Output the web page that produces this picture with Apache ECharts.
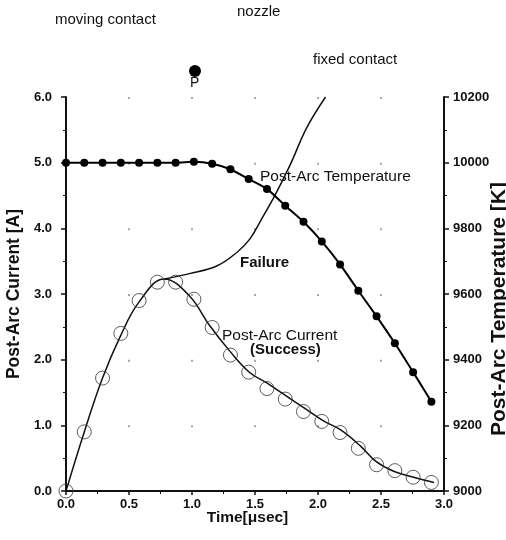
<html>
<head>
<meta charset="utf-8">
<script src="https://cdn.jsdelivr.net/npm/echarts@6/dist/echarts.min.js"></script>
</head>
<body style="margin:0;background:#fff">
<div id="main" style="width:506px;height:540px"></div>
<script>
// time steps of the sampled points [usec]
var times = [0, 0.145, 0.29, 0.435, 0.58, 0.725, 0.87, 1.015, 1.16, 1.305, 1.45,
    1.595, 1.74, 1.885, 2.03, 2.175, 2.32, 2.465, 2.61, 2.755, 2.9];
// post-arc temperature [K] (filled dots)
var temperature = [10000, 10000, 10000, 10000, 10000, 10000, 10000, 10003, 9997, 9980, 9950,
    9920, 9869, 9820, 9760, 9690, 9610, 9532, 9450, 9362, 9272];
// post-arc current [A] (open circles)
var current = [0, 0.90, 1.72, 2.40, 2.90, 3.18, 3.18, 2.92, 2.49, 2.07, 1.81,
    1.56, 1.40, 1.21, 1.06, 0.89, 0.65, 0.40, 0.31, 0.21, 0.13];
// fitted current curve (success)
var successCurve = [[0, 0], [0.15, 0.93], [0.29, 1.72], [0.43, 2.35], [0.58, 2.88], [0.78, 3.23],
    [0.98, 2.97], [1.14, 2.52], [1.30, 2.13], [1.46, 1.80], [1.59, 1.65], [1.73, 1.47],
    [1.91, 1.24], [2.05, 1.06], [2.18, 0.93], [2.34, 0.68], [2.46, 0.45], [2.60, 0.30],
    [2.76, 0.21], [2.92, 0.13]];
// failure branch
var failureCurve = [[0.78, 3.23], [0.98, 3.31], [1.20, 3.43], [1.36, 3.64], [1.46, 3.84],
    [1.54, 4.10], [1.66, 4.51], [1.78, 4.97], [1.91, 5.53], [2.06, 6.0]];
var xTicks = [0, 0.5, 1.0, 1.5, 2.0, 2.5, 3.0];

var font = "'Liberation Sans', Arial, sans-serif";

function pairs(xs, ys) {
    return xs.map(function (x, i) { return [x, ys[i]]; });
}

var chart = echarts.init(document.getElementById('main'));

var labelStyle = {color: '#111', fontWeight: 'bold', fontSize: 13, fontFamily: font};

chart.setOption({
    animation: false,
    grid: {left: 66, right: 62, top: 97, bottom: 49, outerBoundsMode: 'none'},
    xAxis: {
        type: 'value', min: xTicks[0], max: xTicks[xTicks.length - 1], interval: 0.5,
        name: 'Time[\u03bcsec]', nameLocation: 'middle', nameGap: 19, nameMoveOverlap: false,
        nameTextStyle: {color: '#111', fontWeight: 'bold', fontSize: 15.5, fontFamily: font,
            verticalAlign: 'top', padding: [0, 15, 0, 0]},
        axisLine: {lineStyle: {color: '#111', width: 2}},
        axisTick: {length: 4, lineStyle: {color: '#111', width: 1.5}},
        minorTick: {show: true, splitNumber: 2, length: 3, lineStyle: {color: '#111'}},
        axisLabel: Object.assign({margin: 7, formatter: function (v) { return v.toFixed(1); }}, labelStyle),
        // faint dots at the grid crossings
        splitLine: {show: true, lineStyle: {color: '#888', width: 1.5, type: [2, 63.67]}}
    },
    yAxis: [{
        type: 'value', min: 0, max: 6, interval: 1,
        name: 'Post-Arc Current [A]', nameLocation: 'middle', nameRotate: 90, nameGap: 43,
        nameMoveOverlap: false,
        nameTextStyle: {color: '#111', fontWeight: 'bold', fontSize: 17.5, fontFamily: font},
        axisLine: {show: true, lineStyle: {color: '#111', width: 2}},
        axisTick: {length: 5, lineStyle: {color: '#111', width: 1.5}},
        minorTick: {show: true, splitNumber: 2, length: 3, lineStyle: {color: '#111'}},
        axisLabel: Object.assign({margin: 14, formatter: function (v) { return v.toFixed(1); }}, labelStyle),
        splitLine: {show: false}
    }, {
        type: 'value', min: 9000, max: 10200, interval: 200, position: 'right',
        name: 'Post-Arc Temperature [K]', nameLocation: 'middle', nameRotate: 90, nameGap: 45,
        nameMoveOverlap: false,
        nameTextStyle: {color: '#111', fontWeight: 'bold', fontSize: 21, fontFamily: font,
            padding: [0, 30, 0, 0]},
        axisLine: {show: true, lineStyle: {color: '#111', width: 2}},
        axisTick: {length: 5, lineStyle: {color: '#111', width: 1.5}},
        minorTick: {show: true, splitNumber: 2, length: 3, lineStyle: {color: '#111'}},
        axisLabel: Object.assign({margin: 9, formatter: function (v) { return String(v); }}, labelStyle),
        splitLine: {show: false}
    }],
    series: [{
        name: 'Success curve', type: 'line', data: successCurve, smooth: 0.4,
        showSymbol: false, lineStyle: {color: '#111', width: 1.5}, z: 2
    }, {
        name: 'Failure', type: 'line', data: failureCurve, smooth: 0.4,
        showSymbol: false, lineStyle: {color: '#111', width: 1.5}, z: 2
    }, {
        name: 'Post-Arc Current', type: 'scatter', data: pairs(times, current),
        symbol: 'circle', symbolSize: 14,
        itemStyle: {color: 'rgba(0,0,0,0)', borderColor: '#333', borderWidth: 1}, z: 3
    }, {
        name: 'Post-Arc Temperature', type: 'line', yAxisIndex: 1, data: pairs(times, temperature),
        smooth: 0.2, symbol: 'circle', symbolSize: 8,
        itemStyle: {color: '#000'}, lineStyle: {color: '#000', width: 2}, z: 4
    }],
    graphic: [
        {type: 'text', left: 55, top: 12, style: {text: 'moving contact', font: '15px ' + font, fill: '#111'}},
        {type: 'text', left: 237, top: 4, style: {text: 'nozzle', font: '15px ' + font, fill: '#111'}},
        {type: 'text', left: 313, top: 52, style: {text: 'fixed contact', font: '15px ' + font, fill: '#111'}},
        {type: 'circle', shape: {cx: 195, cy: 71, r: 6}, style: {fill: '#000'}},
        {type: 'text', left: 190, top: 76, style: {text: 'P', font: '14px ' + font, fill: '#111'}},
        {type: 'text', left: 260, top: 169, style: {text: 'Post-Arc Temperature', font: '15.5px ' + font, fill: '#111'}},
        {type: 'text', left: 240, top: 255, style: {text: 'Failure', font: 'bold 15px ' + font, fill: '#111'}},
        {type: 'text', left: 222, top: 328, style: {text: 'Post-Arc Current', font: '15.5px ' + font, fill: '#111'}},
        {type: 'text', left: 250, top: 342, style: {text: '(Success)', font: 'bold 15px ' + font, fill: '#111'}}
    ]
});
</script>
</body>
</html>
